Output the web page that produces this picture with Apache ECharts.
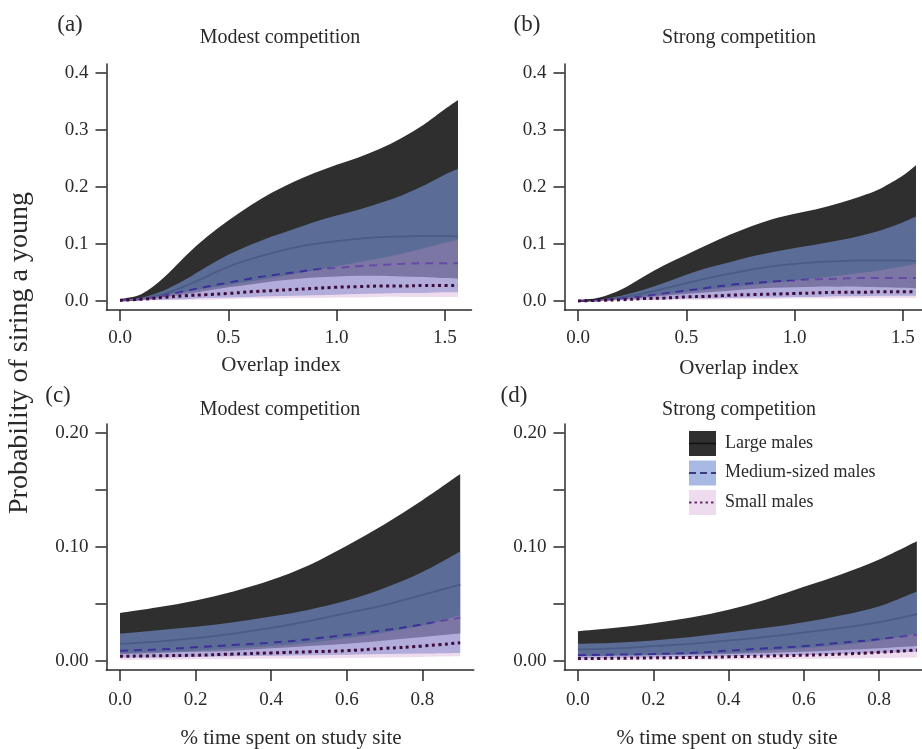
<!DOCTYPE html>
<html>
<head>
<meta charset="utf-8">
<script src="https://cdn.jsdelivr.net/npm/echarts@6/dist/echarts.min.js"></script>
<style>
  html, body { margin: 0; padding: 0; background: #fff; }
  #chart { width: 922px; height: 749px; }
</style>
</head>
<body>
<div id="chart"></div>
<script>
// ---- data ----
// (a)/(b): overlap index
const xOverlap = [0, 0.1, 0.2, 0.3, 0.4, 0.5, 0.6, 0.7, 0.8, 0.9, 1.0, 1.1, 1.2, 1.3, 1.4, 1.5, 1.56]
const aLargeHi = [0.003, 0.012, 0.040, 0.078, 0.112, 0.141, 0.167, 0.190, 0.209, 0.225, 0.239, 0.252, 0.267, 0.286, 0.309, 0.337, 0.353]
const aLargeLo = [0.000, 0.002, 0.006, 0.012, 0.018, 0.024, 0.029, 0.034, 0.038, 0.041, 0.043, 0.044, 0.044, 0.043, 0.042, 0.040, 0.039]
const aLargeFit = [0.001, 0.004, 0.012, 0.026, 0.043, 0.060, 0.073, 0.084, 0.093, 0.100, 0.105, 0.109, 0.112, 0.113, 0.114, 0.114, 0.113]
const aMedHi = [0.002, 0.006, 0.018, 0.037, 0.060, 0.081, 0.098, 0.113, 0.126, 0.139, 0.150, 0.160, 0.172, 0.185, 0.202, 0.222, 0.232]
const aMedLo = [0.000, 0.001, 0.002, 0.003, 0.005, 0.006, 0.007, 0.008, 0.009, 0.010, 0.011, 0.012, 0.013, 0.014, 0.014, 0.015, 0.015]
const aMedFit = [0.001, 0.003, 0.009, 0.017, 0.025, 0.032, 0.039, 0.045, 0.050, 0.055, 0.058, 0.061, 0.063, 0.065, 0.066, 0.066, 0.066]
const aSmallHi = [0.002, 0.005, 0.010, 0.016, 0.022, 0.028, 0.034, 0.040, 0.047, 0.054, 0.061, 0.068, 0.075, 0.083, 0.092, 0.102, 0.107]
const aSmallLo = [0.000, 0.001, 0.001, 0.002, 0.002, 0.003, 0.004, 0.004, 0.005, 0.005, 0.006, 0.006, 0.007, 0.007, 0.007, 0.007, 0.007]
const aSmallFit = [0.001, 0.003, 0.006, 0.009, 0.011, 0.013, 0.016, 0.018, 0.020, 0.022, 0.024, 0.025, 0.026, 0.026, 0.027, 0.027, 0.027]

const bLargeHi = [0.001, 0.006, 0.020, 0.042, 0.063, 0.081, 0.099, 0.116, 0.131, 0.144, 0.153, 0.161, 0.171, 0.183, 0.198, 0.220, 0.238]
const bLargeLo = [0.000, 0.001, 0.003, 0.006, 0.009, 0.012, 0.015, 0.018, 0.021, 0.023, 0.024, 0.025, 0.025, 0.025, 0.024, 0.023, 0.022]
const bLargeFit = [0.000, 0.002, 0.006, 0.013, 0.022, 0.031, 0.040, 0.048, 0.055, 0.061, 0.065, 0.068, 0.070, 0.071, 0.071, 0.071, 0.070]
const bMedHi = [0.000, 0.003, 0.009, 0.019, 0.032, 0.046, 0.058, 0.068, 0.078, 0.086, 0.093, 0.099, 0.106, 0.114, 0.124, 0.138, 0.148]
const bMedLo = [0.000, 0.001, 0.001, 0.002, 0.003, 0.004, 0.004, 0.005, 0.006, 0.006, 0.007, 0.007, 0.008, 0.008, 0.009, 0.009, 0.009]
const bMedFit = [0.000, 0.001, 0.004, 0.008, 0.013, 0.018, 0.023, 0.028, 0.031, 0.034, 0.036, 0.038, 0.039, 0.040, 0.040, 0.040, 0.040]
const bSmallHi = [0.000, 0.002, 0.005, 0.008, 0.012, 0.016, 0.020, 0.024, 0.028, 0.032, 0.036, 0.040, 0.044, 0.049, 0.054, 0.061, 0.065]
const bSmallLo = [0.000, 0.000, 0.001, 0.001, 0.001, 0.002, 0.002, 0.003, 0.003, 0.003, 0.004, 0.004, 0.004, 0.005, 0.005, 0.005, 0.005]
const bSmallFit = [0.000, 0.001, 0.002, 0.004, 0.005, 0.007, 0.008, 0.010, 0.011, 0.012, 0.013, 0.014, 0.015, 0.015, 0.016, 0.016, 0.016]

// (c)/(d): share of time spent on study site
const xTime = [0, 0.1, 0.2, 0.3, 0.4, 0.5, 0.6, 0.7, 0.8, 0.9]
const cLargeHi = [0.042, 0.047, 0.053, 0.061, 0.071, 0.084, 0.101, 0.120, 0.141, 0.164]
const cLargeLo = [0.006, 0.007, 0.008, 0.009, 0.011, 0.013, 0.015, 0.018, 0.021, 0.024]
const cLargeFit = [0.015, 0.017, 0.020, 0.024, 0.029, 0.035, 0.042, 0.049, 0.058, 0.067]
const cMedHi = [0.024, 0.027, 0.030, 0.034, 0.039, 0.045, 0.053, 0.064, 0.078, 0.096]
const cMedLo = [0.003, 0.003, 0.0035, 0.004, 0.0045, 0.005, 0.0055, 0.006, 0.0065, 0.007]
const cMedFit = [0.009, 0.010, 0.012, 0.014, 0.016, 0.019, 0.023, 0.027, 0.032, 0.038]
const cSmallHi = [0.007, 0.008, 0.009, 0.011, 0.013, 0.016, 0.020, 0.025, 0.031, 0.040]
const cSmallLo = [0.001, 0.001, 0.0015, 0.0015, 0.002, 0.002, 0.0025, 0.003, 0.0035, 0.004]
const cSmallFit = [0.004, 0.0045, 0.005, 0.006, 0.007, 0.008, 0.009, 0.011, 0.013, 0.016]

const dLargeHi = [0.026, 0.029, 0.033, 0.038, 0.045, 0.054, 0.065, 0.076, 0.089, 0.105]
const dLargeLo = [0.004, 0.0045, 0.005, 0.0055, 0.006, 0.007, 0.008, 0.0095, 0.011, 0.013]
const dLargeFit = [0.010, 0.011, 0.013, 0.015, 0.018, 0.021, 0.025, 0.029, 0.034, 0.041]
const dMedHi = [0.015, 0.016, 0.018, 0.021, 0.025, 0.029, 0.034, 0.040, 0.048, 0.061]
const dMedLo = [0.002, 0.0025, 0.003, 0.0035, 0.004, 0.0045, 0.005, 0.006, 0.007, 0.008]
const dMedFit = [0.005, 0.0055, 0.006, 0.007, 0.009, 0.011, 0.013, 0.016, 0.019, 0.023]
const dSmallHi = [0.004, 0.0045, 0.005, 0.006, 0.007, 0.009, 0.011, 0.014, 0.018, 0.024]
const dSmallLo = [0.0005, 0.0007, 0.001, 0.001, 0.0012, 0.0015, 0.0018, 0.002, 0.0025, 0.003]
const dSmallFit = [0.002, 0.0023, 0.0027, 0.003, 0.0036, 0.0043, 0.005, 0.006, 0.0075, 0.0095]

const overlapTicks = [0, 0.5, 1.0, 1.5]
const timeTicks = [0, 0.2, 0.4, 0.6, 0.8]
const probTicksTop = [0, 0.1, 0.2, 0.3, 0.4]
const probTicksBottom = [0, 0.05, 0.10, 0.15, 0.20]
const probLabelsBottom = [0, 0.10, 0.20]

const panelTitles = ['Modest competition', 'Strong competition', 'Modest competition', 'Strong competition']
const panelTags = ['(a)', '(b)', '(c)', '(d)']
const legendNames = ['Large males', 'Medium-sized males', 'Small males']

// ---- styling ----
const FONT = '"Liberation Serif", "DejaVu Serif", serif'
const INK = '#2a2a2a'
const LARGE_FILL = '#2f2f2f'
const MED_FILL = 'rgba(117,146,211,0.63)'
const SMALL_FILL = 'rgba(200,140,200,0.30)'
const LARGE_LINE = '#000000'
const MED_LINE = '#3d2f9a'
const SMALL_LINE = '#3d0c3a'

// smooth path through pixel points (Catmull-Rom as cubic Bezier)
function curveTo(pts) {
  let d = ''
  for (let i = 0; i < pts.length - 1; i++) {
    const p0 = pts[Math.max(i - 1, 0)], p1 = pts[i], p2 = pts[i + 1], p3 = pts[Math.min(i + 2, pts.length - 1)]
    const c1 = [p1[0] + (p2[0] - p0[0]) / 6, p1[1] + (p2[1] - p0[1]) / 6]
    const c2 = [p2[0] - (p3[0] - p1[0]) / 6, p2[1] - (p3[1] - p1[1]) / 6]
    d += ` C${c1[0]},${c1[1]} ${c2[0]},${c2[1]} ${p2[0]},${p2[1]}`
  }
  return d
}

function band(gi, xs, lo, hi, fill, z) {
  return {
    type: 'custom', xAxisIndex: gi, yAxisIndex: gi, silent: true, clip: true, z,
    encode: { x: 0, y: [1, 2] },
    data: xs.map((x, i) => [x, lo[i], hi[i]]),
    renderItem: (params, api) => {
      if (params.dataIndex !== 0) return null
      const up = xs.map((x, i) => api.coord([x, hi[i]]))
      const dn = xs.map((x, i) => api.coord([x, lo[i]])).reverse()
      const d = `M${up[0][0]},${up[0][1]}` + curveTo(up) +
        ` L${dn[0][0]},${dn[0][1]}` + curveTo(dn) + ' Z'
      return { type: 'path', shape: { pathData: d }, style: { fill, stroke: null } }
    }
  }
}

function fit(gi, xs, ys, color, width, type, z) {
  return {
    type: 'line', xAxisIndex: gi, yAxisIndex: gi, z,
    symbol: 'none', smooth: 0.5, silent: true,
    lineStyle: { color, width, type, cap: 'butt' },
    data: xs.map((x, i) => [x, ys[i]])
  }
}

// layering as in the figure: each band covers the previous fit line
function panelSeries(gi, xs, d) {
  return [
    band(gi, xs, d.largeLo, d.largeHi, LARGE_FILL, 2),
    fit(gi, xs, d.largeFit, LARGE_LINE, 1.8, 'solid', 3),
    band(gi, xs, d.medLo, d.medHi, MED_FILL, 4),
    fit(gi, xs, d.medFit, MED_LINE, 2, [8, 6], 5),
    band(gi, xs, d.smallLo, d.smallHi, SMALL_FILL, 6),
    fit(gi, xs, d.smallFit, SMALL_LINE, 3, [3, 3.5], 7)
  ]
}

const axisLine = { show: true, onZero: false, lineStyle: { color: INK, width: 1.5 } }
const axisTick = (vals) => ({ show: true, length: 11, lineStyle: { color: INK, width: 1.5 }, customValues: vals })
const label = (vals, digits, margin) => ({
  customValues: vals, margin, color: INK, fontFamily: FONT, fontSize: 19,
  formatter: v => (+v).toFixed(digits)
})

const grids = [
  { left: 106.5, top: 64, width: 365, height: 246 },
  { left: 564.5, top: 64, width: 365, height: 246 },
  { left: 106.4, top: 424, width: 367.4, height: 246 },
  { left: 564.4, top: 424, width: 366, height: 246 }
].map(g => Object.assign(g, { outerBoundsMode: 'none', containLabel: false }))

const xAxes = [0, 1, 2, 3].map(i => {
  const top = i < 2
  return {
    type: 'value', gridIndex: i, z: 10,
    min: top ? -0.0624 : -0.036, max: top ? 1.6224 : 0.936,
    axisLine, splitLine: { show: false },
    axisTick: axisTick(top ? overlapTicks : timeTicks),
    axisLabel: label(top ? overlapTicks : timeTicks, 1, top ? 19 : 21)
  }
})

const yAxes = [0, 1, 2, 3].map(i => {
  const top = i < 2
  return {
    type: 'value', gridIndex: i, z: 10,
    min: top ? -0.016 : -0.008, max: top ? 0.416 : 0.208,
    axisLine, splitLine: { show: false },
    axisTick: axisTick(top ? probTicksTop : probTicksBottom),
    axisLabel: label(top ? probTicksTop : probLabelsBottom, top ? 1 : 2, 18)
  }
})

const series = [].concat(
  panelSeries(0, xOverlap, { largeLo: aLargeLo, largeHi: aLargeHi, largeFit: aLargeFit, medLo: aMedLo, medHi: aMedHi, medFit: aMedFit, smallLo: aSmallLo, smallHi: aSmallHi, smallFit: aSmallFit }),
  panelSeries(1, xOverlap, { largeLo: bLargeLo, largeHi: bLargeHi, largeFit: bLargeFit, medLo: bMedLo, medHi: bMedHi, medFit: bMedFit, smallLo: bSmallLo, smallHi: bSmallHi, smallFit: bSmallFit }),
  panelSeries(2, xTime, { largeLo: cLargeLo, largeHi: cLargeHi, largeFit: cLargeFit, medLo: cMedLo, medHi: cMedHi, medFit: cMedFit, smallLo: cSmallLo, smallHi: cSmallHi, smallFit: cSmallFit }),
  panelSeries(3, xTime, { largeLo: dLargeLo, largeHi: dLargeHi, largeFit: dLargeFit, medLo: dMedLo, medHi: dMedHi, medFit: dMedFit, smallLo: dSmallLo, smallHi: dSmallHi, smallFit: dSmallFit })
)

function txt(text, x, y, size, align, extra) {
  return Object.assign({
    type: 'text', x, y, z: 100, silent: true,
    style: { text, fill: INK, font: size + 'px ' + FONT, textAlign: align || 'center', textVerticalAlign: 'middle' }
  }, extra || {})
}

// titles, panel tags, axis names
const tagPos = [[70, 25], [527, 25], [58, 396], [514, 396]]
const titlePos = [[280, 38], [739, 38], [280, 410], [739, 410]]
const graphics = []
panelTags.forEach((t, i) => graphics.push(txt(t, tagPos[i][0], tagPos[i][1], 23)))
panelTitles.forEach((t, i) => graphics.push(txt(t, titlePos[i][0], titlePos[i][1], 20)))
graphics.push(txt('Overlap index', 281, 365, 21))
graphics.push(txt('Overlap index', 739, 368, 21))
graphics.push(txt('% time spent on study site', 291, 738, 21))
graphics.push(txt('% time spent on study site', 727, 738, 21))
graphics.push(txt('Probability of siring a young', 20, 353, 28, 'center', { rotation: Math.PI / 2 }))

// legend in panel (d)
const legFills = [LARGE_FILL, MED_FILL, SMALL_FILL]
const legLines = [
  { stroke: '#111', lineWidth: 1.5 },
  { stroke: '#3a3a80', lineWidth: 2, lineDash: [7, 4] },
  { stroke: '#6b2a68', lineWidth: 2, lineDash: [2.5, 3] }
]
legendNames.forEach((name, i) => {
  const y0 = 431 + i * 29.5
  graphics.push({ type: 'rect', z: 100, silent: true, shape: { x: 689, y: y0, width: 27, height: 25 }, style: { fill: legFills[i] } })
  graphics.push({ type: 'line', z: 101, silent: true, shape: { x1: 689, y1: y0 + 12.5, x2: 716, y2: y0 + 12.5 }, style: legLines[i] })
  graphics.push(txt(name, 725, y0 + 12, 18, 'left'))
})

const chart = echarts.init(document.getElementById('chart'), null, { renderer: 'canvas' })
chart.setOption({
  backgroundColor: '#ffffff',
  animation: false,
  grid: grids,
  xAxis: xAxes,
  yAxis: yAxes,
  series,
  graphic: graphics
})
</script>
</body>
</html>
